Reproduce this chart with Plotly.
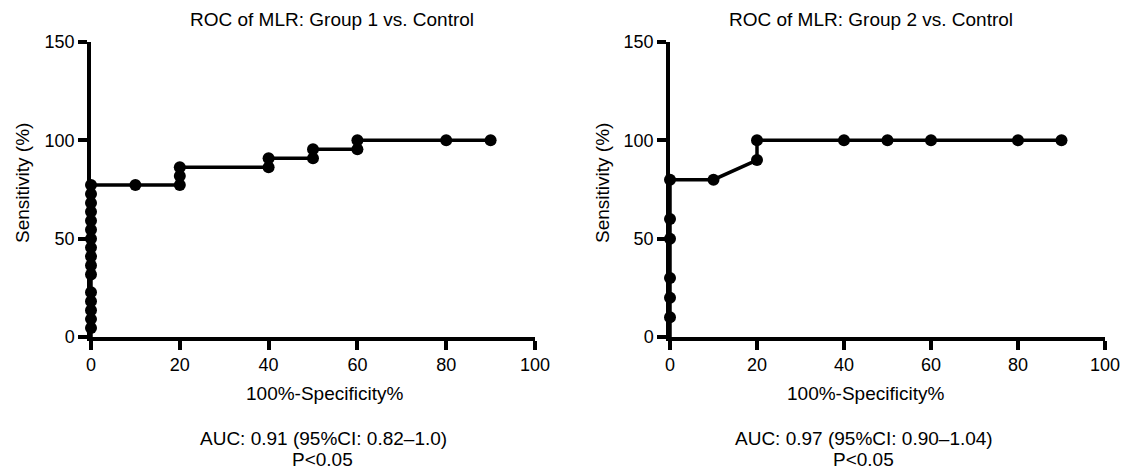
import plotly.graph_objects as go

# ---- data ----
g1_fpr = [0, 0, 0, 0, 0, 0, 0, 0, 0, 0, 0, 0, 0, 0, 0, 0, 0, 10, 20, 20, 20, 40, 40, 50, 50, 60, 60, 80, 90]
g1_tpr = [0, 4.55, 9.09, 13.64, 18.18, 22.73, 31.82, 36.36, 40.91, 45.45, 50.0, 54.55, 59.09, 63.64,
          68.18, 72.73, 77.27, 77.27, 77.27, 81.82, 86.36, 86.36, 90.91, 90.91, 95.45, 95.45, 100, 100, 100]

g2_fpr = [0, 0, 0, 0, 0, 0, 0, 10, 20, 20, 40, 50, 60, 80, 90]
g2_tpr = [0, 10, 20, 30, 50, 60, 80, 80, 90, 100, 100, 100, 100, 100, 100]

titles = ["ROC of MLR: Group 1 vs. Control", "ROC of MLR: Group 2 vs. Control"]
auc_texts = ["AUC: 0.91 (95%CI: 0.82\u20131.0)", "AUC: 0.97 (95%CI: 0.90\u20131.04)"]
p_texts = ["P&lt;0.05", "P&lt;0.05"]
x_ticks = [0, 20, 40, 60, 80, 100]
y_ticks = [0, 50, 100, 150]
x_title = "100%-Specificity%"
y_title = "Sensitivity (%)"

FONT = "Liberation Sans, Arial, sans-serif"
W, H = 1131, 473

fig = go.Figure()

def sizes(n):
    return [0] + [12] * (n - 1)

for xs, ys, xa, ya in [(g1_fpr, g1_tpr, "x", "y"), (g2_fpr, g2_tpr, "x2", "y2")]:
    fig.add_trace(go.Scatter(x=xs, y=ys, mode="lines+markers", xaxis=xa, yaxis=ya,
                             line=dict(color="black", width=3.5),
                             marker=dict(color="black", size=sizes(len(xs)), opacity=1,
                                         line=dict(width=0)),
                             cliponaxis=False, showlegend=False, hoverinfo="skip"))

ydom = [(H - 337) / H, (H - 42) / H]
xdoms = [[91 / W, 535 / W], [670 / W, 1105 / W]]

axis_common = dict(showline=True, linewidth=3.5, linecolor="black", ticks="outside", ticklen=9,
                   tickwidth=3.5, tickcolor="black", showgrid=False, zeroline=False,
                   automargin=False,
                   tickfont=dict(family=FONT, size=18, color="black"))

layout = dict(
    width=W, height=H, margin=dict(l=0, r=0, t=0, b=0, autoexpand=False),
    paper_bgcolor="white", plot_bgcolor="white",
    font=dict(family=FONT, size=18, color="black"),
)
for i, suffix in enumerate(["", "2"]):
    layout["xaxis" + suffix] = dict(axis_common, domain=xdoms[i], range=[0, 100], tickvals=x_ticks,
                                    anchor="y" + suffix)
    layout["yaxis" + suffix] = dict(axis_common, domain=ydom, range=[0, 150], tickvals=y_ticks,
                                    anchor="x" + suffix)
fig.update_layout(**layout)

# text placement (pixel centres)
title_cx = [332, 871]
xtitle_cx = [324, 865]
ytitle_cx = [22, 602]

def ann(text, px, py, size=19, angle=0):
    return dict(text=text, x=px / W, y=(H - py) / H, xref="paper", yref="paper",
                xanchor="center", yanchor="middle", showarrow=False, textangle=angle,
                font=dict(family=FONT, size=size, color="black"))

annotations = []
for i in range(2):
    annotations.append(ann(titles[i], title_cx[i], 19))
    annotations.append(ann(x_title, xtitle_cx[i], 393))
    annotations.append(ann(y_title, ytitle_cx[i], 183, angle=-90))
    annotations.append(ann(auc_texts[i], xtitle_cx[i] - 1, 438))
    annotations.append(ann(p_texts[i], xtitle_cx[i] - 2, 459))
fig.update_layout(annotations=annotations)

fig.write_html("out.html")
